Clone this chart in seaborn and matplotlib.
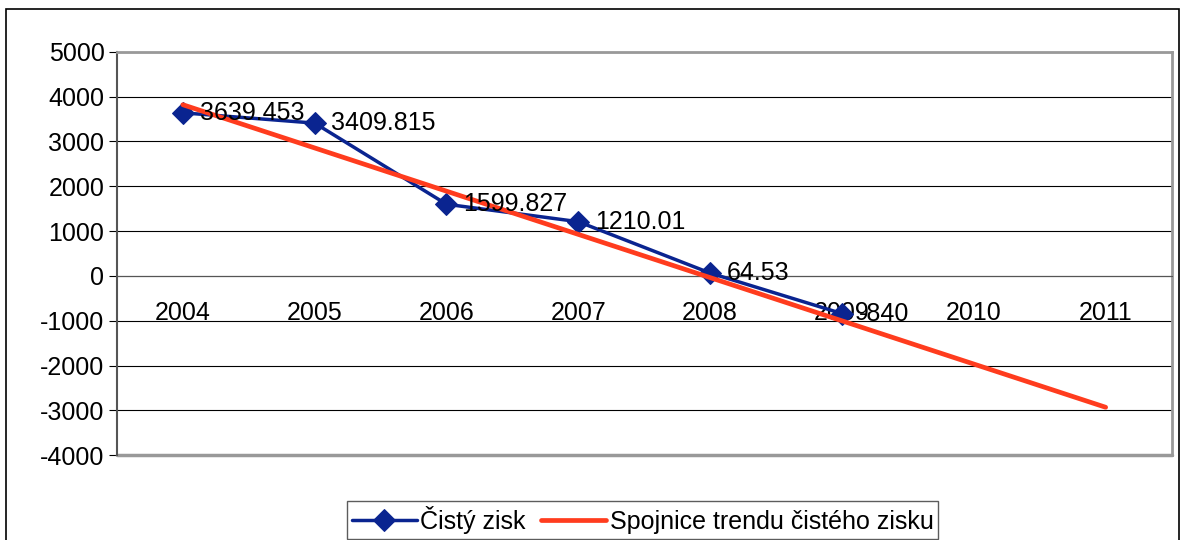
import numpy as np
import pandas as pd
import seaborn as sns
import matplotlib.pyplot as plt
from matplotlib.patches import Rectangle

years = ['2004', '2005', '2006', '2007', '2008', '2009', '2010', '2011']
profit_years = ['2004', '2005', '2006', '2007', '2008', '2009']
profit = [3639.453, 3409.815, 1599.827, 1210.01, 64.53, -840]
trend_years = ['2004', '2011']
trend = [3820, -2930]

sns.set_style('white')
plt.rcParams['font.family'] = ['Liberation Sans', 'DejaVu Sans']
plt.rcParams['axes.unicode_minus'] = False
plt.rcParams['text.color'] = 'black'
plt.rcParams['xtick.color'] = 'black'
plt.rcParams['ytick.color'] = 'black'

df = pd.DataFrame({'x': [years.index(y) for y in profit_years], 'zisk': profit})
dt = pd.DataFrame({'x': [years.index(y) for y in trend_years], 'trend': trend})

fig = plt.figure(figsize=(11.81, 5.4), dpi=100)
ax = fig.add_axes([0.099, 0.157, 0.893, 0.747])

sns.lineplot(data=df, x='x', y='zisk', ax=ax, color='#0a2490', lw=2.5,
             marker='D', markersize=11, markeredgecolor='#0a2490',
             label='Čistý zisk', zorder=3)
sns.lineplot(data=dt, x='x', y='trend', ax=ax, color='#ff3c1e', lw=3.4,
             label='Spojnice trendu čistého zisku', zorder=4)

def fmt(v):
    return ('%f' % v).rstrip('0').rstrip('.')

for x, v in zip(df['x'], df['zisk']):
    ax.annotate(fmt(v), (x, v), xytext=(12, 0), textcoords='offset points',
                va='center', ha='left', fontsize=18, color='black', zorder=5)

ax.set_xlim(-0.5, len(years) - 0.5)
ax.set_ylim(-4000, 5000)
ax.set_yticks(range(-4000, 5001, 1000))
ax.yaxis.grid(True, color='black', lw=0.8)
ax.set_axisbelow(True)

ax.spines['bottom'].set_position(('data', 0))
ax.spines['bottom'].set_color('#555555')
ax.spines['left'].set_color('#555555')
ax.spines['left'].set_linewidth(1.5)
ax.spines['top'].set_color('#999999')
ax.spines['right'].set_color('#999999')
ax.spines['top'].set_linewidth(2)
ax.spines['right'].set_linewidth(2)

ax.set_xticks(range(len(years)))
ax.set_xticklabels(years)
ax.set_xticks(np.arange(-0.5, len(years), 1), minor=True)
ax.tick_params(axis='x', which='major', length=0, labelsize=18, pad=18)
ax.tick_params(axis='x', which='minor', length=6, direction='out', color='black')
ax.tick_params(axis='y', length=6, direction='out', labelsize=18, color='black',
               left=True, pad=3)
ax.set_xlabel('')
ax.set_ylabel('')

# bottom border of the plot area
ax.axhline(-4000, color='#999999', lw=2.5, clip_on=False)

ax.get_legend().remove()
h, l = ax.get_legend_handles_labels()
leg = fig.legend(h, l, loc='upper center', bbox_to_anchor=(0.544, 0.072), ncol=2,
                 fontsize=18, frameon=True, fancybox=False, borderpad=0.2,
                 handlelength=2.6, handletextpad=0.15, columnspacing=0.6,
                 borderaxespad=0)
leg.get_frame().set_edgecolor('#333333')
leg.get_frame().set_linewidth(1)

fig.patches.append(Rectangle((0.005, -0.01), 0.993, 0.993, transform=fig.transFigure,
                             fill=False, edgecolor='black', lw=1.2))

fig.savefig('out.png', dpi=100)
